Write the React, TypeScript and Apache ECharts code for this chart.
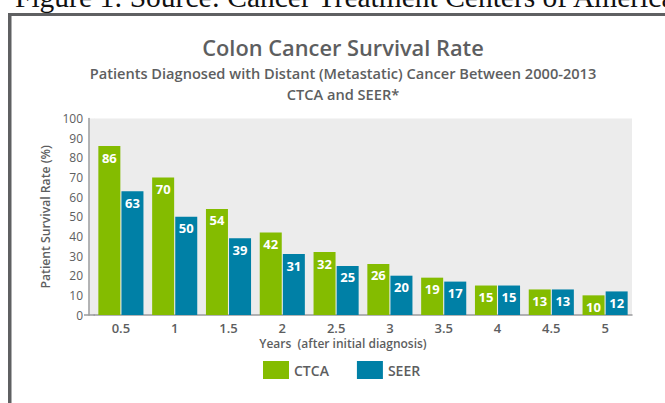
import React, { useEffect, useRef } from "react";
import * as echarts from "echarts";

const years = ["0.5", "1", "1.5", "2", "2.5", "3", "3.5", "4", "4.5", "5"];
const ctca = [86, 70, 54, 42, 32, 26, 19, 15, 13, 10];
const seer = [63, 50, 39, 31, 25, 20, 17, 15, 13, 12];
const yTicks = [0, 10, 20, 30, 40, 50, 60, 70, 80, 90, 100];

const GREEN = "#84bc00";
const BLUE = "#0080a6";
const TEXT = "#5d5e60";
const FONT = "'Open Sans', sans-serif";

export default function App() {
  const ref = useRef<HTMLDivElement>(null);
  useEffect(() => {
    if (!ref.current) return;
    const chart = echarts.init(ref.current, null, { renderer: "svg" });
    const barLabel = {
      show: true,
      position: "insideTop",
      distance: 5,
      color: "#ffffff",
      fontFamily: FONT,
      fontWeight: 700,
      fontSize: 13,
    };
    chart.setOption({
      animation: false,
      backgroundColor: "#ffffff",
      textStyle: { fontFamily: FONT },
      graphic: [
        { type: "rect", shape: { x: 8, y: 13, width: 657, height: 3 }, style: { fill: "#5f6062" }, silent: true },
        { type: "rect", shape: { x: 8, y: 13, width: 3.5, height: 400 }, style: { fill: "#5f6062" }, silent: true },
        {
          type: "text", x: 15, y: -3,
          style: { text: "Figure 1: Source: Cancer Treatment Centers of America", fontFamily: "'Liberation Serif', serif", fontSize: 29.5, fill: "#111111", textVerticalAlign: "middle", textAlign: "left" },
        },
        {
          type: "text", x: 343, y: 47.5,
          style: { text: "Colon Cancer Survival Rate", fontFamily: FONT, fontWeight: 600, fontSize: 21.8, fill: TEXT, textAlign: "center", textVerticalAlign: "middle" },
        },
        {
          type: "text", x: 343, y: 73.4,
          style: {
            text: "Patients Diagnosed with Distant (Metastatic) Cancer Between 2000-2013",
            fontFamily: FONT, fontWeight: 600, fontSize: 14.6, fill: TEXT, textAlign: "center", textVerticalAlign: "middle",
          },
        },
        {
          type: "text", x: 343, y: 93.8,
          style: {
            text: "CTCA and SEER*",
            fontFamily: FONT, fontWeight: 600, fontSize: 14.6, fill: TEXT, textAlign: "center", textVerticalAlign: "middle",
          },
        },
        { type: "rect", shape: { x: 89.5, y: 118.5, width: 5, height: 196.5 }, style: { fill: "#ececec" }, silent: true, z: -1 },
        { type: "line", shape: { x1: 84, y1: 315, x2: 95, y2: 315 }, style: { stroke: "#9a9b9d", lineWidth: 1.5 }, silent: true },
      ],
      grid: {
        left: 94, right: 33, top: 118.5, bottom: 88,
        show: true, backgroundColor: "#ececec", borderWidth: 0,
      },
      legend: {
        data: ["CTCA", "SEER"],
        left: 263, top: 361, padding: 0,
        itemWidth: 26, itemHeight: 18, itemGap: 28,
        icon: "rect",
        textStyle: { color: TEXT, fontFamily: FONT, fontWeight: 600, fontSize: 14 },
      },
      xAxis: {
        type: "category",
        data: years,
        axisLine: { show: true, lineStyle: { color: "#9a9b9d", width: 1.5 } },
        axisTick: { show: false },
        axisLabel: { color: TEXT, fontFamily: FONT, fontWeight: 600, fontSize: 13, lineHeight: 13, margin: 6 },
        name: "Years  (after initial diagnosis)",
        nameLocation: "middle",
        nameGap: 22,
        nameTextStyle: { color: TEXT, fontFamily: FONT, fontWeight: 600, fontSize: 12, lineHeight: 13, padding: [0, 40, 0, 0] },
      },
      yAxis: {
        type: "value",
        min: yTicks[0],
        max: yTicks[yTicks.length - 1],
        interval: 10,
        offset: 5,
        splitLine: { show: false },
        axisLine: { show: true, lineStyle: { color: "#9a9b9d", width: 1.5 } },
        axisTick: { show: false },
        axisLabel: { color: TEXT, fontFamily: FONT, fontSize: 12, margin: 6 },
        name: "Patient Survival Rate (%)",
        nameLocation: "middle",
        nameGap: 27,
        nameTextStyle: { color: TEXT, fontFamily: FONT, fontWeight: 600, fontSize: 12.2 },
      },
      series: [
        { name: "CTCA", type: "bar", data: ctca, barWidth: 22, barGap: "5%", itemStyle: { color: GREEN }, label: barLabel },
        { name: "SEER", type: "bar", data: seer, barWidth: 22, barGap: "5%", itemStyle: { color: BLUE }, label: barLabel },
      ],
    });
    return () => chart.dispose();
  }, []);
  return <div ref={ref} style={{ position: "absolute", left: 0, top: 0, width: 665, height: 403 }} />;
}
